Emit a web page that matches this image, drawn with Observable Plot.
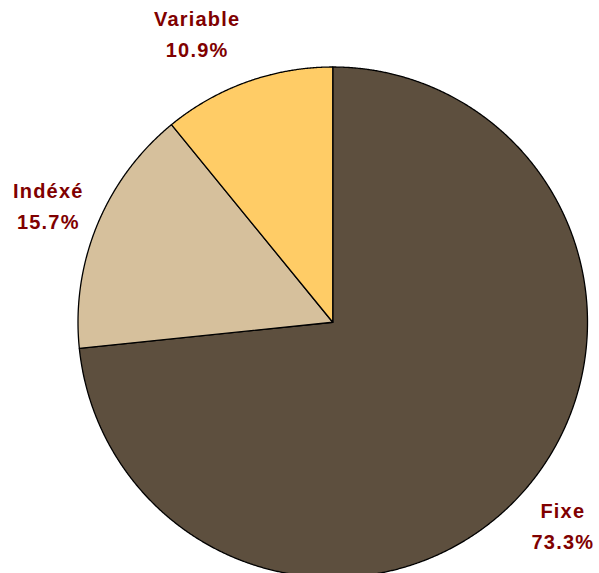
<!DOCTYPE html>
<html>
<head>
<meta charset="utf-8">
<script src="https://cdn.jsdelivr.net/npm/d3@7"></script>
<script src="https://cdn.jsdelivr.net/npm/@observablehq/plot@0.6"></script>
<style>
  html, body { margin: 0; padding: 0; background: #fff; overflow: hidden; }
  #chart svg text { letter-spacing: 1.2px; }
</style>
</head>
<body>
<div id="chart"></div>
<script>
const categories = ["Fixe", "Indéxé", "Variable"];
const values = [73.3, 15.7, 10.9];
const colors = ["#5D4F3E", "#D6C09C", "#FFCC66"];

const arcs = d3.pie().sort(null).startAngle(0).endAngle(2 * Math.PI)(values);

// Polygon points for each slice (data space: unit circle)
const slicePts = [];
arcs.forEach((a, i) => {
  const n = Math.max(2, Math.ceil((a.endAngle - a.startAngle) / 0.004));
  slicePts.push({k: categories[i], x: 0, y: 0});
  for (let j = 0; j <= n; j++) {
    const t = a.startAngle + (a.endAngle - a.startAngle) * j / n;
    slicePts.push({k: categories[i], x: Math.sin(t), y: Math.cos(t)});
  }
});

// label anchors: arc midpoints on the rim
const labels = arcs.map((a, i) => {
  const m = (a.startAngle + a.endAngle) / 2;
  return {k: categories[i], x: Math.sin(m), y: Math.cos(m), text: categories[i] + "\n" + values[i].toFixed(1) + "%"};
});
const offsets = {"Fixe": [41, 30], "Indéxé": [-49, -21], "Variable": [-50, -50]};

const textOpts = {x: "x", y: "y", text: "text", fill: "#800000", fontSize: 20, fontWeight: "bold", lineHeight: 1.55, lineAnchor: "middle", textAnchor: "middle"};

const chart = Plot.plot({
  width: 599,
  height: 573,
  margin: 0,
  x: {domain: [-1, 1], range: [77.5, 587], axis: null},
  y: {domain: [-1, 1], range: [577, 66.5], axis: null},
  color: {domain: categories, range: colors},
  style: {fontFamily: "'Liberation Sans', Arial, sans-serif", background: "#fff", overflow: "visible"},
  marks: [
    Plot.line(slicePts, {x: "x", y: "y", z: "k", fill: "k", stroke: "#000", strokeWidth: 1.3, curve: "linear-closed"}),
    ...categories.map(c => Plot.text(labels.filter(d => d.k === c), {...textOpts, dx: offsets[c][0], dy: offsets[c][1]}))
  ]
});
document.getElementById("chart").appendChild(chart);
</script>
</body>
</html>
